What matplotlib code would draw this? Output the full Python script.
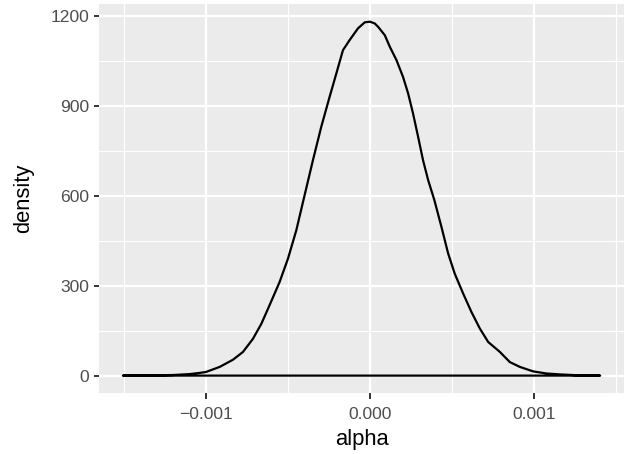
import matplotlib
matplotlib.use("Agg")
import matplotlib.pyplot as plt

# density estimate of alpha
alpha = [-0.001506, -0.00135, -0.00120, -0.00110, -0.001038, -0.001, -0.000916,
         -0.000835, -0.000774, -0.000713, -0.000662, -0.000612, -0.000551,
         -0.0005, -0.000449, -0.000408, -0.000348, -0.000297, -0.000246,
         -0.000205, -0.000165, -0.000124, -0.000073, -0.000032, 0.0,
         0.000029, 0.000049, 0.00009, 0.00012, 0.000161, 0.000201, 0.000232,
         0.000262, 0.000293, 0.000323, 0.000354, 0.000392, 0.000435,
         0.000476, 0.000516, 0.000567, 0.000618, 0.000669, 0.00072,
         0.000791, 0.000852, 0.000913, 0.000994, 0.001076, 0.001157,
         0.00125, 0.001402]
density = [0, 0.5, 2, 5, 9, 12, 29, 53, 79, 123, 173, 235, 312, 390, 485, 580,
           718, 830, 930, 1008, 1085, 1119, 1158, 1178, 1180, 1174, 1163,
           1135, 1097, 1052, 996, 941, 874, 796, 718, 652, 585, 496, 407, 340,
           274, 212, 157, 112, 79, 45, 29, 14, 7, 4, 1.5, 0]

x_major = [-0.001, 0.0, 0.001]
x_labels = ["\u22120.001", "0.000", "0.001"]
x_minor = [-0.0015, -0.0005, 0.0005, 0.0015]
y_major = [0, 300, 600, 900, 1200]
y_minor = [150, 450, 750, 1050]

plt.rcParams["font.family"] = ["Liberation Sans", "DejaVu Sans"]

W, H = 624, 454
fig = plt.figure(figsize=(W / 100, H / 100), dpi=100)
left, right, top, bottom = 99, 624, 4, 393.3
ax = fig.add_axes([left / W, (H - bottom) / H, (right - left) / W, (bottom - top) / H])
ax.set_facecolor("#EBEBEB")
for s in ax.spines.values():
    s.set_visible(False)

ax.fill(alpha, density, facecolor="none", edgecolor="black", linewidth=1.6,
        joinstyle="round", zorder=3)

# ggplot-style expansion of 5%
xr = max(alpha) - min(alpha)
yr = max(density) - min(density)
ax.set_xlim(min(alpha) - 0.05 * xr, max(alpha) + 0.05 * xr)
ax.set_ylim(min(density) - 0.05 * yr, max(density) + 0.05 * yr)

ax.set_xticks(x_major)
ax.set_xticklabels(x_labels)
ax.set_xticks(x_minor, minor=True)
ax.set_yticks(y_major)
ax.set_yticklabels([str(v) for v in y_major])
ax.set_yticks(y_minor, minor=True)

ax.grid(which="major", color="white", linewidth=1.6, zorder=1)
ax.grid(which="minor", color="white", linewidth=0.8, zorder=1)
ax.set_axisbelow(True)

ax.tick_params(which="major", length=3.96, width=1.4, color="#333333",
               labelcolor="#4D4D4D", labelsize=12.6)
ax.tick_params(axis="x", which="major", pad=5.8)
ax.tick_params(axis="y", which="major", pad=3.0)
ax.tick_params(which="minor", length=0)

ax.set_xlabel("alpha", fontsize=15.8, color="black", labelpad=5.5)
ax.set_ylabel("density", fontsize=15.8, color="black", labelpad=11.5)

fig.savefig("out.png", dpi=100)
